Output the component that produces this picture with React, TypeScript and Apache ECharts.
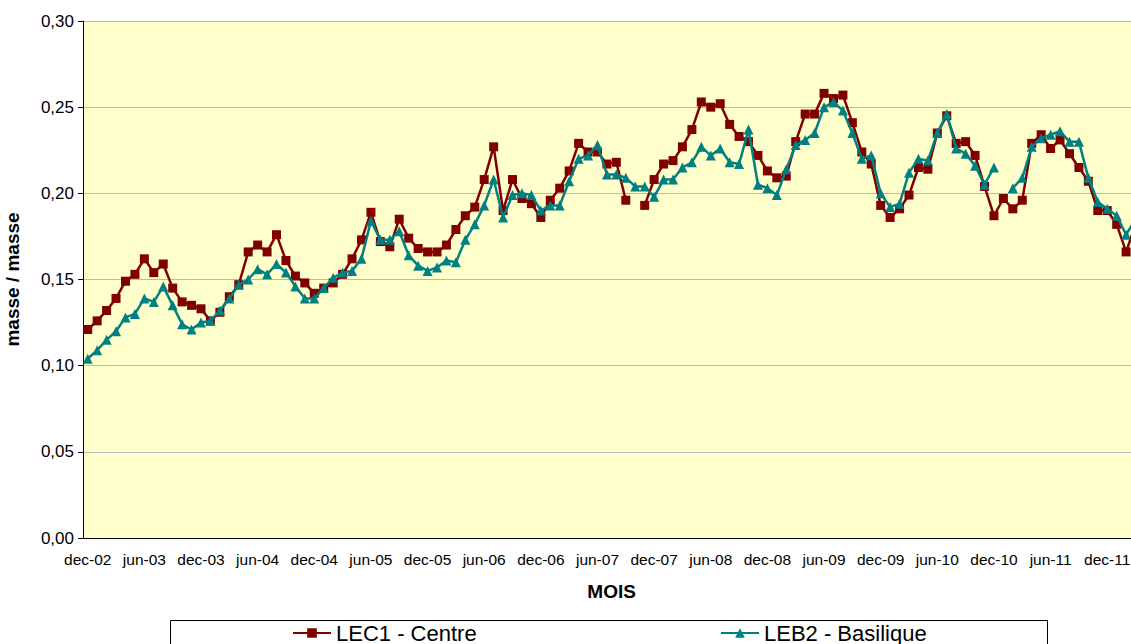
import React, { useEffect, useRef } from "react";
import * as echarts from "echarts";

const MONTHS = ["jan", "feb", "mar", "apr", "may", "jun", "jul", "aug", "sep", "oct", "nov", "dec"];
// monthly categories from dec-02 to mar-12
const categories: string[] = [];
for (let i = 0; i < 112; i++) {
  const m = (11 + i) % 12;
  const y = 2 + Math.floor((11 + i) / 12);
  categories.push(`${MONTHS[m]}-${String(y).padStart(2, "0")}`);
}

const seriesNames = ["LEC1 - Centre", "LEB2 - Basilique"];

const lec1Centre: (number | null)[] = [
  0.121, 0.126, 0.132, 0.139, 0.149, 0.153, 0.162, 0.154, 0.159, 0.145, 0.137, 0.135,
  0.133, 0.126, 0.131, 0.140, 0.147, 0.166, 0.170, 0.166, 0.176, 0.161, 0.152, 0.148,
  0.142, 0.145, 0.148, 0.153, 0.162, 0.173, 0.189, 0.172, 0.169, 0.185, 0.174, 0.168,
  0.166, 0.166, 0.170, 0.179, 0.187, 0.192, 0.208, 0.227, 0.190, 0.208, 0.197, 0.194,
  0.186, 0.196, 0.203, 0.213, 0.229, 0.224, 0.224, 0.217, 0.218, 0.196, null, 0.193,
  0.208, 0.217, 0.219, 0.227, 0.237, 0.253, 0.250, 0.252, 0.240, 0.233, 0.230, 0.222,
  0.213, 0.209, 0.210, 0.230, 0.246, 0.246, 0.258, 0.255, 0.257, 0.241, 0.224, 0.217,
  0.193, 0.186, 0.191, 0.199, 0.215, 0.214, 0.235, 0.245, 0.229, 0.230, 0.222, 0.204,
  0.187, 0.197, 0.191, 0.196, 0.229, 0.234, 0.226, 0.231, 0.223, 0.215, 0.207, 0.190,
  0.190, 0.182, 0.166, 0.182,
];

const leb2Basilique: (number | null)[] = [
  0.104, 0.109, 0.115, 0.120, 0.128, 0.130, 0.139, 0.137, 0.146, 0.135, 0.124, 0.121,
  0.125, 0.126, 0.132, 0.139, 0.147, 0.150, 0.156, 0.153, 0.159, 0.154, 0.146, 0.139,
  0.139, 0.145, 0.151, 0.154, 0.155, 0.162, 0.184, 0.173, 0.173, 0.178, 0.164, 0.158,
  0.155, 0.157, 0.161, 0.160, 0.173, 0.182, 0.193, 0.208, 0.186, 0.199, 0.200, 0.199,
  0.190, 0.193, 0.193, 0.207, 0.220, 0.222, 0.228, 0.211, 0.211, 0.209, 0.204, 0.204,
  0.198, 0.208, 0.208, 0.215, 0.218, 0.227, 0.222, 0.226, 0.218, 0.217, 0.237, 0.205,
  0.203, 0.199, 0.214, 0.228, 0.231, 0.235, 0.250, 0.253, 0.248, 0.235, 0.220, 0.222,
  0.200, 0.192, 0.194, 0.212, 0.220, 0.219, 0.235, 0.246, 0.226, 0.223, 0.216, 0.205,
  0.215, null, 0.203, 0.209, 0.227, 0.232, 0.234, 0.236, 0.230, 0.230, 0.209, 0.195,
  0.191, 0.187, 0.176, 0.185,
];

const yTicks = { min: 0, max: 0.3, interval: 0.05 };

const FONT = "'Liberation Sans', Arial, sans-serif";

export default function App() {
  const ref = useRef<HTMLDivElement>(null);
  useEffect(() => {
    if (!ref.current) return;
    const chart = echarts.init(ref.current, undefined, { renderer: "svg" });
    const legendText = { fontSize: 22, fontFamily: FONT, color: "#000" };
    chart.setOption({
      animation: false,
      backgroundColor: "#ffffff",
      textStyle: { fontFamily: FONT },
      grid: {
        left: 83,
        top: 21,
        height: 517,
        width: 112 * 9.44,
        show: true,
        backgroundColor: "#FFFFCC",
        borderWidth: 0,
        containLabel: false,
        outerBoundsMode: "none",
      },
      graphic: [
        {
          type: "rect",
          z: 0,
          shape: { x: 170.5, y: 620.5, width: 877, height: 60 },
          style: { fill: "#ffffff", stroke: "#000000", lineWidth: 1 },
        },
      ],
      legend: [
        {
          data: [seriesNames[0]],
          left: 292,
          top: 622,
          padding: 0,
          itemWidth: 38,
          itemHeight: 12,
          textStyle: legendText,
          z: 5,
        },
        {
          data: [seriesNames[1]],
          left: 720,
          top: 622,
          padding: 0,
          itemWidth: 38,
          itemHeight: 12,
          textStyle: legendText,
          z: 5,
        },
      ],
      xAxis: {
        type: "category",
        data: categories,
        boundaryGap: true,
        name: "MOIS",
        nameLocation: "middle",
        nameGap: 44,
        nameTextStyle: { fontSize: 19, fontWeight: "bold", color: "#000", fontFamily: FONT },
        axisLine: { lineStyle: { color: "#000", width: 1 } },
        axisTick: { interval: 5, length: 5, lineStyle: { color: "#000" } },
        axisLabel: { interval: 5, fontSize: 15.5, color: "#000", margin: 13, fontFamily: FONT },
        splitLine: { show: false },
      },
      yAxis: {
        type: "value",
        min: yTicks.min,
        max: yTicks.max,
        interval: yTicks.interval,
        name: "masse / masse",
        nameLocation: "middle",
        nameRotate: 90,
        nameGap: 61,
        nameTextStyle: { fontSize: 19, fontWeight: "bold", color: "#000", fontFamily: FONT },
        axisLine: { show: true, lineStyle: { color: "#000", width: 1 } },
        axisTick: { show: true, length: 5, lineStyle: { color: "#000" } },
        axisLabel: {
          fontSize: 17,
          color: "#000",
          margin: 9,
          fontFamily: FONT,
          formatter: (v: number) => v.toFixed(2).replace(".", ","),
        },
        splitLine: { show: true, lineStyle: { color: "#B8B8B8", width: 1 } },
      },
      series: [
        {
          name: seriesNames[0],
          type: "line",
          data: lec1Centre,
          symbol: "rect",
          symbolSize: 9,
          showAllSymbol: true,
          connectNulls: false,
          lineStyle: { color: "#800000", width: 2.5 },
          itemStyle: { color: "#800000" },
          z: 3,
        },
        {
          name: seriesNames[1],
          type: "line",
          data: leb2Basilique,
          symbol: "triangle",
          symbolSize: 10,
          showAllSymbol: true,
          connectNulls: false,
          lineStyle: { color: "#008080", width: 2.5 },
          itemStyle: { color: "#008080" },
          z: 4,
        },
      ],
    });
    return () => chart.dispose();
  }, []);
  return (
    <div
      ref={ref}
      style={{ position: "absolute", left: 0, top: 0, width: 1131, height: 644 }}
    />
  );
}
